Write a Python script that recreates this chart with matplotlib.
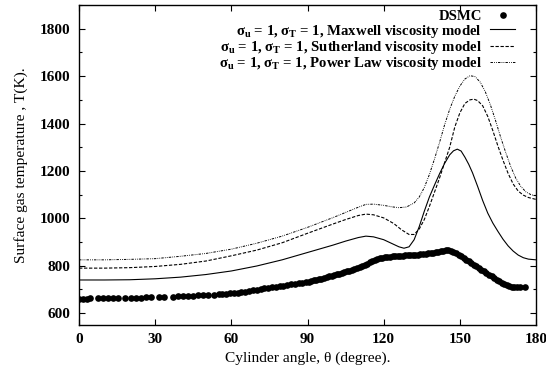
import matplotlib
matplotlib.use("Agg")
import matplotlib.pyplot as plt
import matplotlib.transforms as mtransforms
from matplotlib.ticker import MultipleLocator

plt.rcParams['font.family'] = ['Liberation Serif', 'DejaVu Serif']
plt.rcParams['mathtext.fontset'] = 'custom'
plt.rcParams['mathtext.rm'] = 'Liberation Serif:bold'
plt.rcParams['mathtext.it'] = 'Liberation Serif:bold'
plt.rcParams['mathtext.bf'] = 'Liberation Serif:bold'

# DSMC surface gas temperature
dsmc_angle = [0, 1.5, 3, 4.5, 7.5, 9.5, 11.5, 13.5, 15.5, 18, 20.5, 22.5, 24.5, 26.5, 28.5,
              31.5, 33.5, 37, 39, 41, 43, 45, 47, 49, 51, 53, 55, 56.5, 58, 59.5,
              61, 62.5, 64, 65.5, 67, 68.5, 70, 71.5, 73, 74.5, 76, 77.5, 79, 80.5, 82, 83.5,
              85, 86.5, 88, 89.5,
              90.5, 91.5, 92.5, 93.5, 94.5, 95.5, 96.5, 97.5, 98.5, 99.5, 100.5, 101.5, 102.5,
              103.5, 104.5, 105.5, 106.5, 107.5, 108.5, 109.5, 110.5, 111.5, 112.5, 113.5, 114.5,
              115.5, 116.5, 117.5, 118.5, 119.5, 120.5, 121.5, 122.5, 123.5, 124.5, 125.5, 126.5,
              127.5, 128.5, 129.5, 130.5, 131.5, 132.5, 133.5, 134.5, 135.5, 136.5, 137.5, 138.5,
              139.5, 140.5, 141.5, 142.5, 143.5, 144.5,
              145.5, 146.5, 147.5, 148.5, 149.5, 150.5, 151.5, 152.5, 153.5, 154.5, 155.5, 156.5,
              157.5, 158.5, 159.5, 160.5, 161.5, 162.5, 163.5, 164.5, 165.5, 166.5, 167.5, 168.5,
              169.5, 170.5, 171.5, 172.5, 173.5, 175.5]
dsmc_temp = [660, 661, 661, 662, 662, 662, 663, 663, 663, 664, 665, 665, 666, 667, 668,
             669, 669, 670, 671, 672, 673, 674, 675, 676, 677, 678, 679, 680, 682, 683,
             685, 687, 689, 691, 693, 696, 699, 702, 705, 707, 709, 711, 714, 716, 719, 721,
             724, 726, 729, 731,
             733, 736, 738, 741, 743, 746, 749, 752, 755, 758, 761, 764, 767,
             770, 773, 776, 779, 782, 786, 790, 794, 798, 802, 808, 816,
             822, 826, 829, 832, 834, 836, 838, 839, 840, 841, 842, 843,
             843, 844, 844, 845, 845, 846, 847, 848, 849, 851, 852, 854,
             855, 857, 859, 861, 863, 865,
             865, 862, 858, 853, 847, 840, 833, 826, 819, 812, 805, 798,
             791, 784, 777, 770, 763, 756, 749, 742, 735, 729, 723, 718,
             714, 712, 711, 710, 709, 709]

# Maxwell viscosity model
max_angle = [0, 10, 20, 30, 40, 50, 60, 70, 80, 90, 100, 105, 110, 113, 116, 120, 124, 126,
             128, 130, 132, 134, 136, 138, 140, 142, 144, 146, 147.5, 149, 150.5, 152, 153.5, 155,
             157, 159, 161, 163, 165, 167, 169, 171, 173, 175, 177, 180]
max_temp = [740, 740, 741, 745, 752, 763, 778, 799, 825, 856, 887, 904, 919, 925, 922, 910, 890, 880,
            874, 880, 910, 965, 1030, 1090, 1140, 1188, 1232, 1268, 1285, 1292, 1284, 1258, 1228, 1192,
            1135, 1075, 1022, 980, 945, 912, 884, 862, 845, 834, 828, 825]

# Sutherland viscosity model
suth_angle = [0, 10, 20, 30, 40, 50, 60, 70, 80, 90, 100, 105, 110, 113, 116, 120, 124, 127,
              130, 132, 134, 136, 138, 140, 142, 144, 146, 148, 150, 152, 154, 155.5, 157, 159,
              161, 163, 165, 167, 169, 171, 173, 175, 177, 180]
suth_temp = [790, 790, 792, 797, 806, 820, 842, 866, 897, 937, 976, 995, 1012, 1018, 1015, 1002, 978, 952,
             932, 932, 955, 995, 1050, 1110, 1170, 1235, 1300, 1385, 1445, 1485, 1500, 1503, 1497, 1475,
             1430, 1370, 1305, 1245, 1190, 1145, 1115, 1098, 1088, 1080]

# Power law viscosity model
pow_angle = [0, 10, 20, 30, 40, 50, 60, 70, 80, 90, 100, 105, 110, 113, 116, 120, 123, 126,
             129, 132, 134, 136, 138, 140, 142, 144, 146, 148, 150, 152, 154, 156, 158, 160,
             162, 164, 166, 168, 170, 172, 174, 176, 178, 180]
pow_temp = [825, 825, 827, 830, 840, 852, 870, 895, 925, 962, 1003, 1025, 1047, 1059, 1060, 1055, 1049, 1045,
            1048, 1065, 1090, 1130, 1185, 1250, 1320, 1395, 1460, 1515, 1558, 1588, 1602, 1598, 1575, 1535,
            1480, 1415, 1345, 1280, 1220, 1170, 1135, 1112, 1100, 1095]

fig = plt.figure(figsize=(5.46, 3.80), dpi=100)
ax = fig.add_axes([0.1447, 0.1447, 0.837, 0.842])

ax.plot(dsmc_angle, dsmc_temp, 'o', color='black', markersize=4.8, markeredgewidth=0,
        label='DSMC')
ax.plot(max_angle, max_temp, '-', color='black', lw=0.8,
        label=r'σ$_u$ = 1, σ$_T$ = 1, Maxwell viscosity model')
ax.plot(suth_angle, suth_temp, color='black', lw=0.8, dashes=(3, 1.5),
        label=r'σ$_u$ = 1, σ$_T$ = 1, Sutherland viscosity model')
ax.plot(pow_angle, pow_temp, color='black', lw=0.7, dashes=(2.5, 1.2, 0.8, 1.2, 0.8, 1.2),
        label=r'σ$_u$ = 1, σ$_T$ = 1, Power Law viscosity model')

ax.set_xlim(0, 180)
ax.set_ylim(550, 1900)
ax.xaxis.set_major_locator(MultipleLocator(30))
ax.yaxis.set_minor_locator(MultipleLocator(100))
ax.set_yticks(range(600, 1801, 200))
ax.tick_params(which='both', direction='in', top=True, right=True, width=0.8)
ax.tick_params(which='major', length=4, labelsize=11, pad=6)
ax.tick_params(which='minor', length=2.5)
for lab in ax.get_xticklabels() + ax.get_yticklabels():
    lab.set_fontweight('bold')
for sp in ax.spines.values():
    sp.set_linewidth(1.0)

# pull the last x label in so it stays inside the figure
last = ax.xaxis.get_major_ticks()[-1].label1
last.set_transform(last.get_transform() +
                   mtransforms.ScaledTranslation(-5 / 100, 0, fig.dpi_scale_trans))

ax.set_xlabel('Cylinder angle, θ (degree).', fontsize=11.1, labelpad=4)
ax.set_ylabel('Surface gas temperature , T(K).', fontsize=11.1, labelpad=9)

leg = ax.legend(loc='upper right', bbox_to_anchor=(0.967, 1.003), frameon=False,
                markerfirst=False, handlelength=1.7, labelspacing=-0.05, borderaxespad=0,
                handletextpad=0.55,
                prop={'family': 'Liberation Serif', 'weight': 'bold', 'size': 10.6})
for t in leg.get_texts():
    t.set_horizontalalignment('right')
leg._legend_box.align = 'right'

fig.savefig('out.png', dpi=100)
